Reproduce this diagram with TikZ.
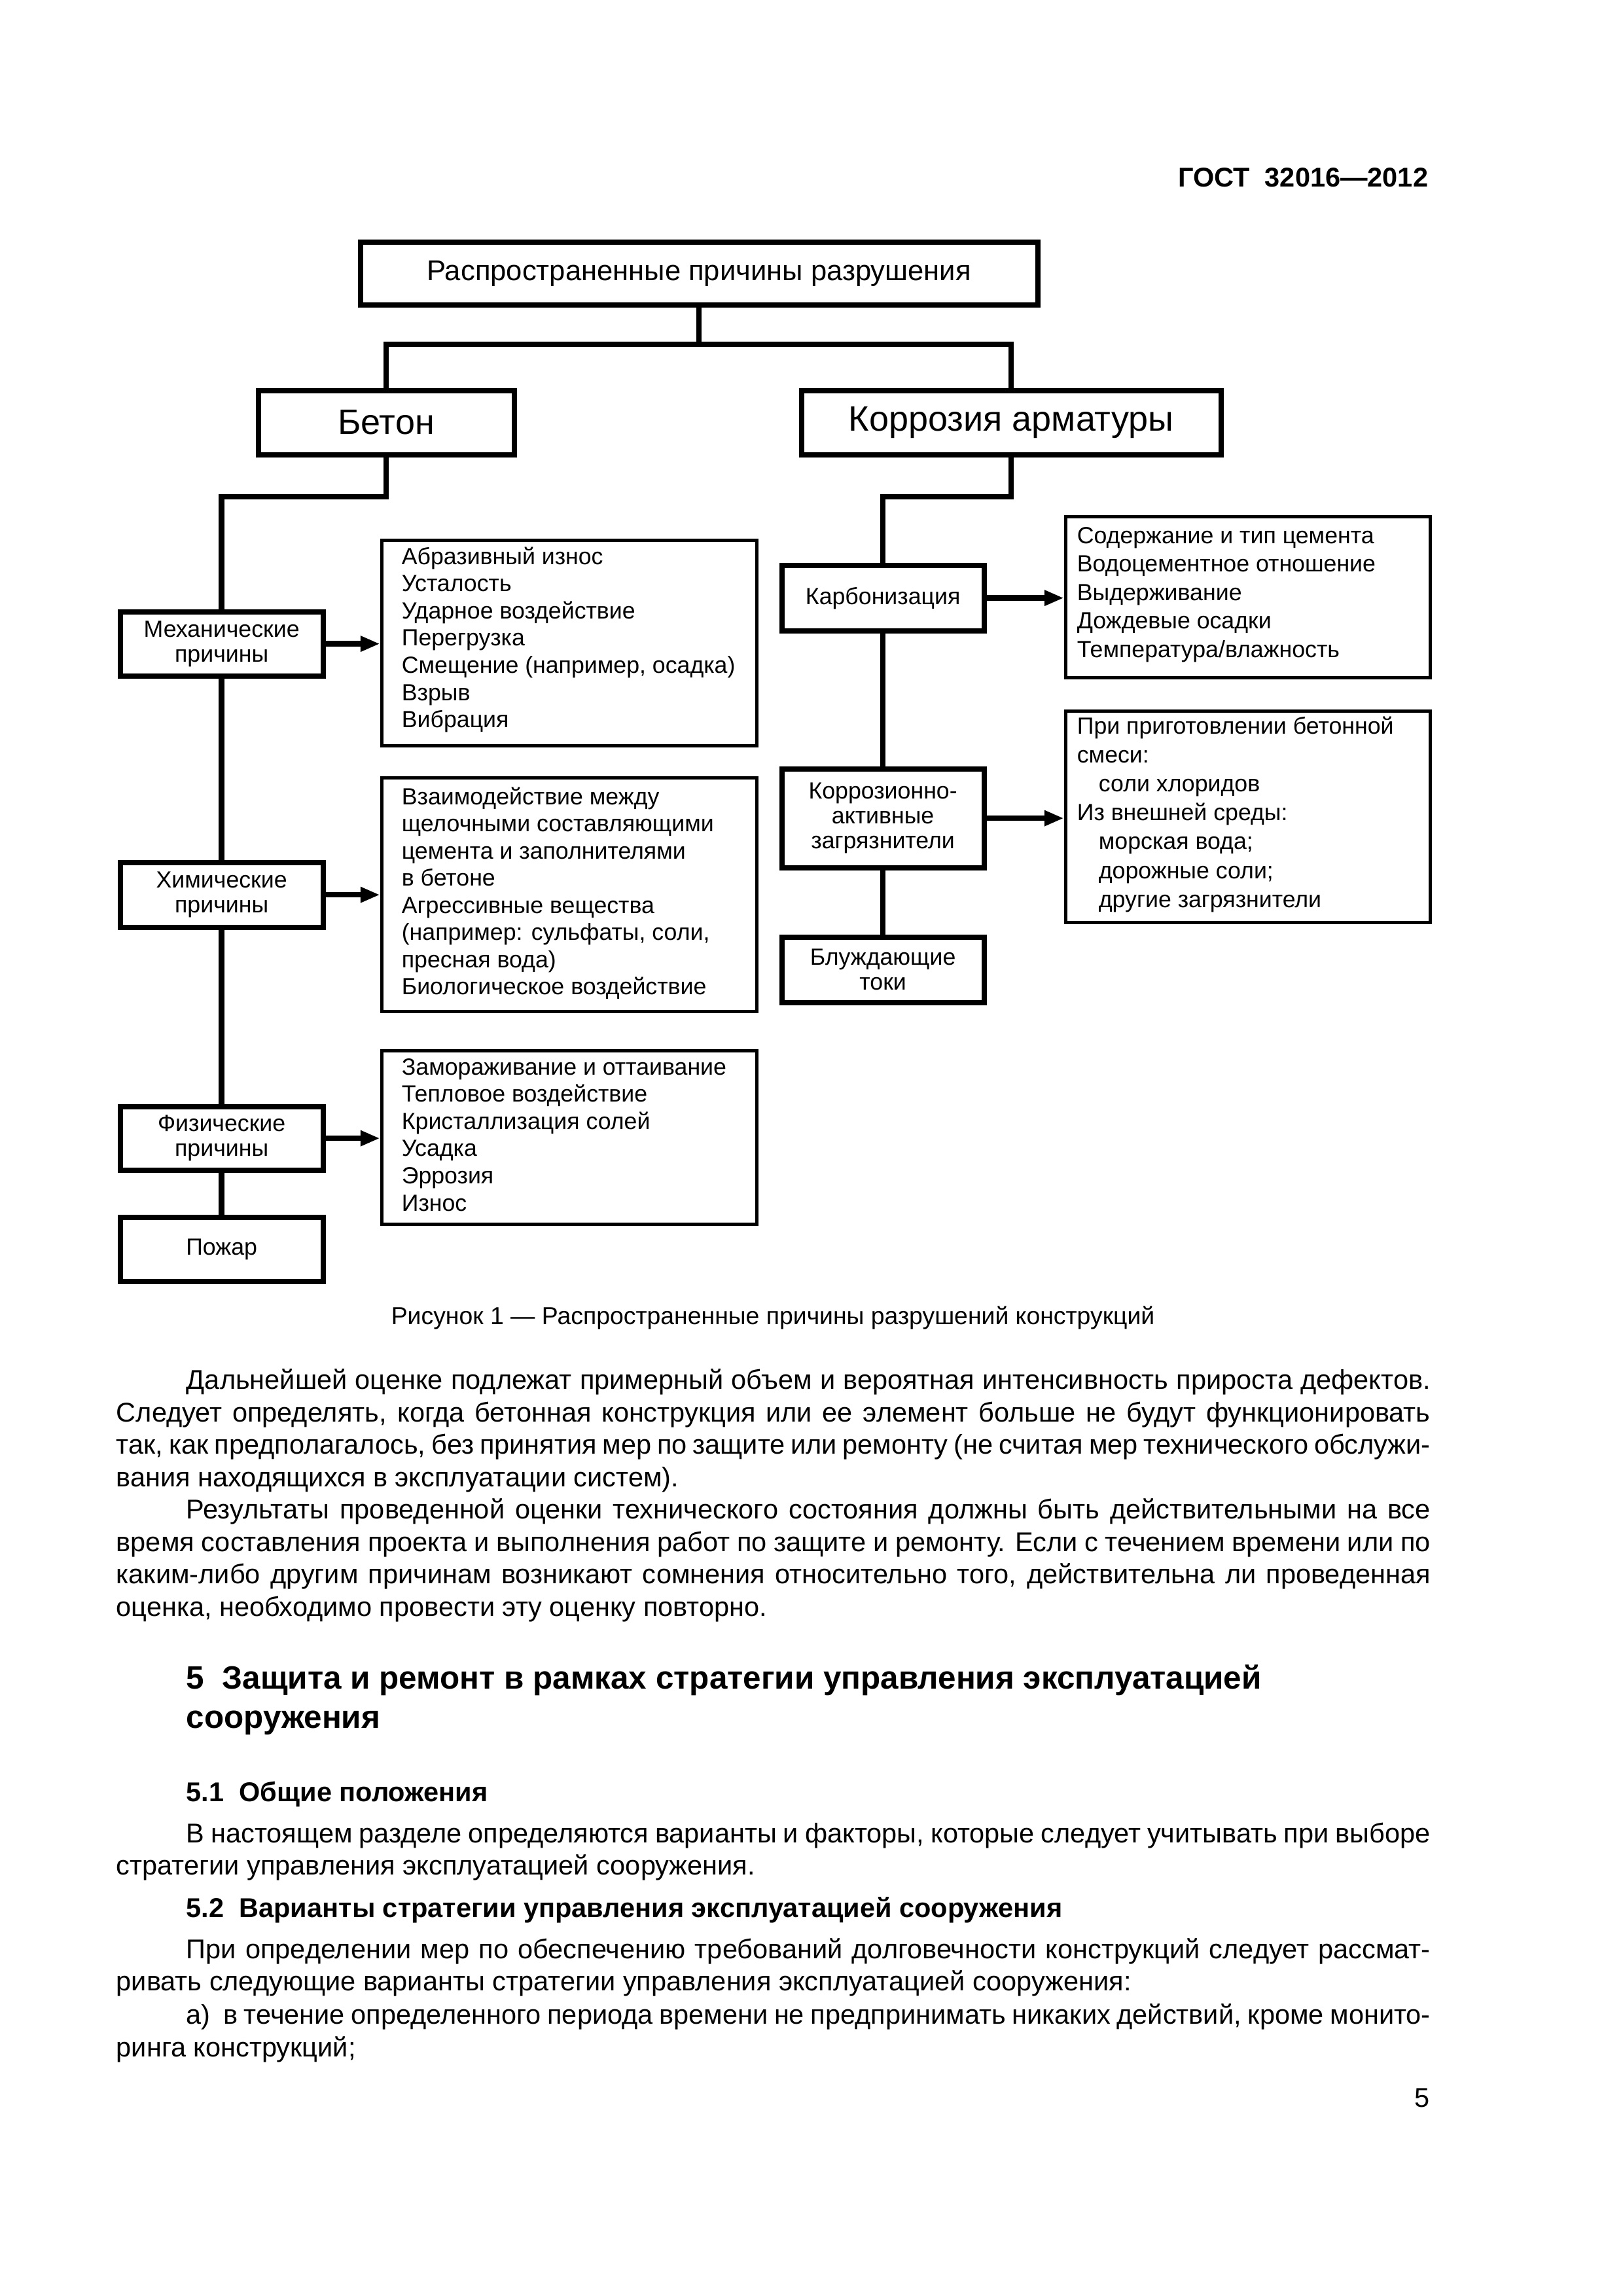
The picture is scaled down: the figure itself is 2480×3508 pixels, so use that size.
\documentclass[tikz,border=0pt]{standalone}
\usepackage{fontspec}
\setmainfont{Liberation Sans}
\usetikzlibrary{arrows.meta}
\def\pu{0.0846667mm}
\tikzset{
  bx/.style={draw, line width=0.7mm, fill=white, inner sep=0pt, align=center},
  lbx/.style={draw, line width=0.5mm, inner sep=0pt},
  conn/.style={line width=0.72mm},
  arr/.style={conn, -{Triangle[length=2.5mm,width=1.9mm]}},
  sm/.style={font=\fontsize{8.6}{9.2}\selectfont},
  li/.style={anchor=base west, inner sep=0pt, font=\fontsize{8.6}{9.6}\selectfont},
  bt/.style={anchor=base west, inner sep=0pt, font=\fontsize{10}{12}\selectfont},
  hd/.style={anchor=base west, inner sep=0pt, font=\bfseries\fontsize{10}{12}\selectfont},
  hb/.style={anchor=base west, inner sep=0pt, font=\bfseries\fontsize{11.9}{14}\selectfont},
}
% box given by its outer edges (x1,y1,x2,y2); the border is drawn 3.5 px inside them
\newcommand\mkbox[7]{\node[#2, anchor=north west, minimum width={(#5-#3-7)*\pu}, minimum height={(#6-#4-7)*\pu}] (#1) at ({#3+3.5},{#4+3.5}) {#7};}
\newcommand\jfull[3]{\node[bt] (#1) at (177,#2) {\spaceskip=0.278em plus 1em minus 0.12em\relax\makebox[170.0mm][s]{#3}};}
\newcommand\jind[3]{\node[bt] (#1) at (284,#2) {\spaceskip=0.278em plus 1em minus 0.12em\relax\makebox[160.95mm][s]{#3}};}
\newcommand\lfull[3]{\node[bt] (#1) at (177,#2) {#3};}
\begin{document}
\begin{tikzpicture}[x=0.0846667mm, y=-0.0846667mm]
\useasboundingbox (0,0) rectangle (2480,3508);
\fill[white] (0,0) rectangle (2480,3508);

% header
\node[anchor=base east, inner sep=0pt, font=\bfseries\fontsize{10}{12}\selectfont] (hdr) at (2183,285) {ГОСТ\ \ 32016—2012};

% boxes
\mkbox{top}{bx}{543}{362}{1585}{465}{\fontsize{10.5}{12}\selectfont Распространенные причины разрушения}
\mkbox{bet}{bx}{387}{589}{785}{694}{\fontsize{13}{15}\selectfont Бетон}
\mkbox{kor}{bx}{1217}{589}{1865}{694}{\fontsize{13}{15}\selectfont Коррозия арматуры}
\mkbox{mech}{bx,sm}{176}{927}{493}{1032}{Механические\\причины}
\mkbox{chem}{bx,sm}{176}{1310}{493}{1416}{Химические\\причины}
\mkbox{phys}{bx,sm}{176}{1683}{493}{1787}{Физические\\причины}
\mkbox{fire}{bx,sm}{176}{1852}{493}{1957}{Пожар}
\mkbox{carb}{bx,sm}{1187}{856}{1503}{963}{Карбонизация}
\mkbox{cact}{bx,sm}{1187}{1167}{1503}{1325}{Коррозионно-\\активные\\загрязнители}
\mkbox{stray}{bx,sm}{1187}{1424}{1503}{1531}{Блуждающие\\токи}
\mkbox{lm}{lbx}{577}{819}{1157}{1140}{}
\mkbox{lc}{lbx}{577}{1182}{1157}{1546}{}
\mkbox{lp}{lbx}{577}{1599}{1157}{1871}{}
\mkbox{lr1}{lbx}{1622}{783}{2186}{1036}{}
\mkbox{lr2}{lbx}{1622}{1080}{2186}{1410}{}

% connectors
\path (top.south) ++(0,56) coordinate (j1);
\draw[conn] (top.south) -- (j1);
\draw[conn] (bet.north) |- (j1) -| (kor.north);
\draw[conn] (bet.south) -- ++(0,60) -| (mech.north);
\draw[conn] (mech.south) -- (chem.north);
\draw[conn] (chem.south) -- (phys.north);
\draw[conn] (phys.south) -- (fire.north);
\draw[conn] (kor.south) -- ++(0,60) -| (carb.north);
\draw[conn] (carb.south) -- (cact.north);
\draw[conn] (cact.south) -- (stray.north);
\draw[arr] (mech.east) -- (mech.east -| lm.west);
\draw[arr] (chem.east) -- (chem.east -| lc.west);
\draw[arr] (phys.east) -- (phys.east -| lp.west);
\draw[arr] (carb.east) -- (carb.east -| lr1.west);
\draw[arr] (cact.east) -- (cact.east -| lr2.west);

% list texts
\foreach \t [count=\i] in {{Абразивный износ},{Усталость},{Ударное воздействие},{Перегрузка},{Смещение (например, осадка)},{Взрыв},{Вибрация}}
  \node[li] (tm\i) at (613,{862+41.6*(\i-1)}) {\t};
\foreach \t [count=\i] in {{Взаимодействие между},{щелочными составляющими},{цемента и заполнителями},{в бетоне},{Агрессивные вещества},{(например: сульфаты, соли,},{пресная вода)},{Биологическое воздействие}}
  \node[li] (tc\i) at (613,{1229+41.5*(\i-1)}) {\t};
\foreach \t [count=\i] in {{Замораживание и оттаивание},{Тепловое воздействие},{Кристаллизация солей},{Усадка},{Эррозия},{Износ}}
  \node[li] (tp\i) at (613,{1642+41.6*(\i-1)}) {\t};
\foreach \t [count=\i] in {{Содержание и тип цемента},{Водоцементное отношение},{Выдерживание},{Дождевые осадки},{Температура/влажность}}
  \node[li] (ta\i) at (1645,{830+43.6*(\i-1)}) {\t};
\foreach \t [count=\i] in {{При приготовлении бетонной},{смеси:},{\hspace*{2.8mm}соли хлоридов},{Из внешней среды:},{\hspace*{2.8mm}морская вода;},{\hspace*{2.8mm}дорожные соли;},{\hspace*{2.8mm}другие загрязнители}}
  \node[li] (tb\i) at (1645,{1121+44.2*(\i-1)}) {\t};

% caption
\node[anchor=base, inner sep=0pt, font=\fontsize{9}{11}\selectfont] (cap) at (1181,2023) {Рисунок 1 — Распространенные причины разрушений конструкций};

% body text
\jind{b1}{2122}{Дальнейшей оценке подлежат примерный объем и вероятная интенсивность прироста дефектов.}
\jfull{b2}{2172}{Следует определять, когда бетонная конструкция или ее элемент больше не будут функционировать}
\jfull{b3}{2221}{так, как предполагалось, без принятия мер по защите или ремонту (не считая мер технического обслужи-}
\lfull{b4}{2271}{вания находящихся в эксплуатации систем).}
\jind{b5}{2320}{Результаты проведенной оценки технического состояния должны быть действительными на все}
\jfull{b6}{2370}{время составления проекта и выполнения работ по защите и ремонту. Если с течением времени или по}
\jfull{b7}{2419}{каким-либо другим причинам возникают сомнения относительно того, действительна ли проведенная}
\lfull{b8}{2469}{оценка, необходимо провести эту оценку повторно.}

\node[hb] (h1) at (284,2580) {5\ \ Защита и ремонт в рамках стратегии управления эксплуатацией};
\node[hb] (h2) at (284,2640) {сооружения};

\node[hd] (s51) at (284,2752) {5.1\ \ Общие положения};
\jind{b9}{2815}{В настоящем разделе определяются варианты и факторы, которые следует учитывать при выборе}
\lfull{b10}{2864}{стратегии управления эксплуатацией сооружения.}
\node[hd] (s52) at (284,2929) {5.2\ \ Варианты стратегии управления эксплуатацией сооружения};
\jind{b11}{2992}{При определении мер по обеспечению требований долговечности конструкций следует рассмат-}
\lfull{b12}{3041}{ривать следующие варианты стратегии управления эксплуатацией сооружения:}
\jind{b13}{3092}{а)\ \ в течение определенного периода времени не предпринимать никаких действий, кроме монито-}
\lfull{b14}{3142}{ринга конструкций;}

\node[anchor=base east, inner sep=0pt, font=\fontsize{10}{12}\selectfont] (pg) at (2185,3219) {5};
\end{tikzpicture}
\end{document}
